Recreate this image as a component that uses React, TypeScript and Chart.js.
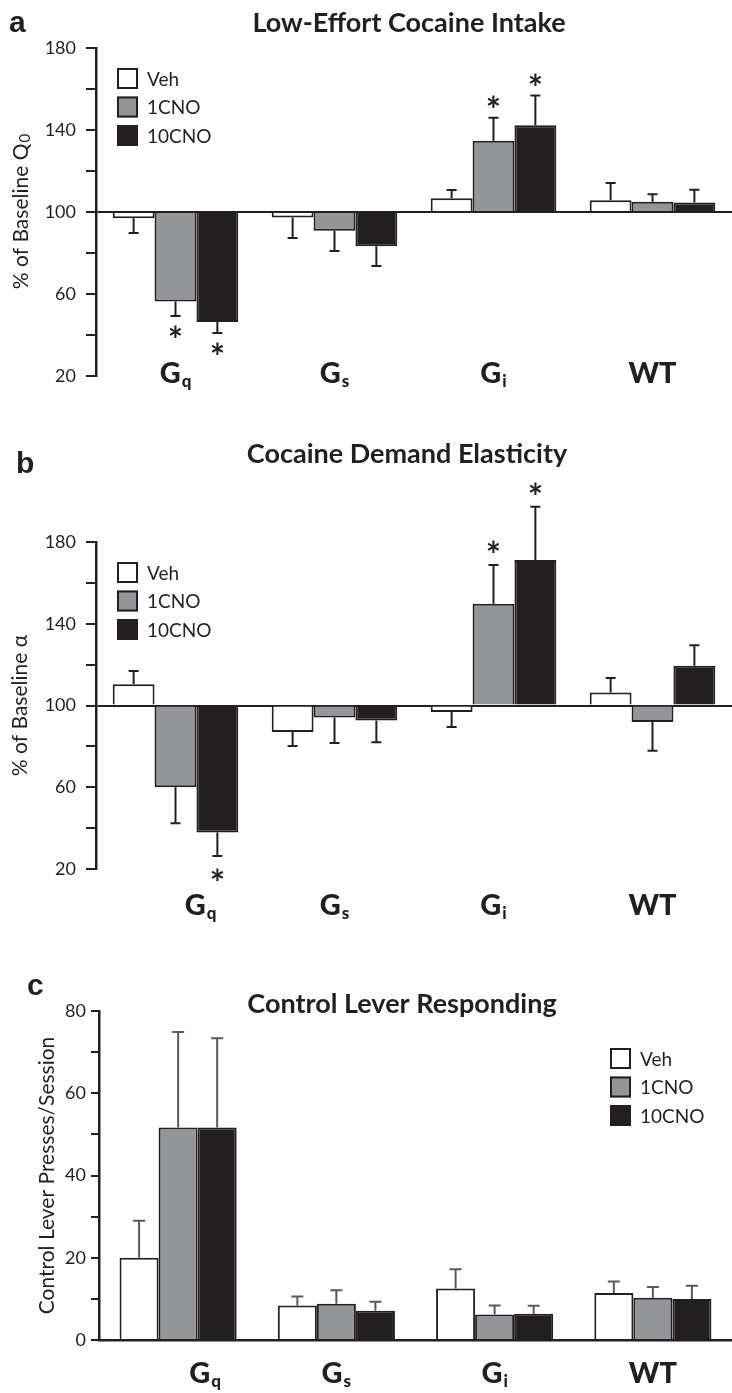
import React, { useEffect, useRef } from 'react';
import { Chart, registerables } from 'chart.js';

Chart.register(...registerables);

// ---------- shared data ----------
const seriesNames = ['Veh', '1CNO', '10CNO'];
const catMain = ['G', 'G', 'G', 'WT'];
const catSub = ['q', 's', 'i', ''];

// ---------- panel a: Low-Effort Cocaine Intake (% of baseline Q0) ----------
const aVeh = [97.0, 97.3, 106.7, 105.7];
const a1CNO = [56.4, 90.9, 134.8, 105.0];
const a10CNO = [46.3, 83.3, 142.3, 104.6];
const aVehErr = [7.2, 10.0, 4.0, 8.4];
const a1CNOErr = [7.1, 9.9, 11.2, 3.6];
const a10CNOErr = [5.3, 9.6, 14.5, 6.3];
const aSig1CNO = [1, 0, 1, 0];
const aSig10CNO = [1, 0, 1, 0];

// ---------- panel b: Cocaine Demand Elasticity (% of baseline alpha) ----------
const bVeh = [110.4, 87.0, 96.8, 106.3];
const b1CNO = [60.0, 94.1, 149.8, 91.9];
const b10CNO = [37.8, 92.7, 171.2, 119.5];
const bVehErr = [6.5, 6.8, 7.3, 7.1];
const b1CNOErr = [17.6, 12.4, 19.0, 14.1];
const b10CNOErr = [11.5, 10.7, 26.1, 10.0];
const bSig1CNO = [0, 0, 1, 0];
const bSig10CNO = [1, 0, 1, 0];

// ---------- panel c: Control Lever Responding ----------
const cVeh = [20.0, 8.4, 12.5, 11.4];
const c1CNO = [51.7, 8.8, 6.2, 10.3];
const c10CNO = [51.7, 7.1, 6.4, 10.0];
const cVehErr = [9.0, 2.2, 4.7, 2.8];
const c1CNOErr = [23.2, 3.3, 2.2, 2.6];
const c10CNOErr = [21.7, 2.2, 1.9, 3.2];
const cSig = [0, 0, 0, 0];

const DARK = '#231f20';
const GRAY = '#939598';
const WHITE = '#ffffff';
const fills = [WHITE, GRAY, DARK];
const FONT = 'Lato, "Open Sans", sans-serif';

type PanelCfg = {
  top: number; height: number;
  values: number[][]; errors: number[][]; sig: number[][];
  min: number; max: number; step: number; labelEvery: number; base: number;
  padTop: number; padBottom: number; yWidth: number; tickPad: number; tickLen: number;
  catPct: number; baseLine: boolean; xBorder: boolean;
  letter: string; letterX: number; letterY: number;
  title: string; titleX: number; titleY: number; titleMax: number;
  yTitle: string; yTitleSub: string; yTitleX: number; yTitleSize: number;
  legendX: number; legendY: number;
  labelDy: number; labelShift: number[];
  errColor: string; capHalf: number; starGap: number;
};

const panels: PanelCfg[] = [
  {
    top: 0, height: 420,
    values: [aVeh, a1CNO, a10CNO], errors: [aVehErr, a1CNOErr, a10CNOErr], sig: [[0, 0, 0, 0], aSig1CNO, aSig10CNO],
    min: 20, max: 180, step: 20, labelEvery: 40, base: 100,
    padTop: 48, padBottom: 44, yWidth: 96, tickPad: 10, tickLen: 10,
    catPct: 0.79, baseLine: true, xBorder: false,
    letter: 'a', letterX: 9, letterY: 32,
    title: 'Low-Effort Cocaine Intake', titleX: 409, titleY: 32, titleMax: 332,
    yTitle: '% of Baseline Q', yTitleSub: '0', yTitleX: 21, yTitleSize: 21,
    legendX: 117, legendY: 68,
    labelDy: 7, labelShift: [0, 0, 0, 0],
    errColor: DARK, capHalf: 5, starGap: 16,
  },
  {
    top: 420, height: 520,
    values: [bVeh, b1CNO, b10CNO], errors: [bVehErr, b1CNOErr, b10CNOErr], sig: [[0, 0, 0, 0], bSig1CNO, bSig10CNO],
    min: 20, max: 180, step: 20, labelEvery: 40, base: 100,
    padTop: 122, padBottom: 71, yWidth: 96, tickPad: 10, tickLen: 10,
    catPct: 0.79, baseLine: true, xBorder: false,
    letter: 'b', letterX: 16, letterY: 53,
    title: 'Cocaine Demand Elasticity', titleX: 407, titleY: 43, titleMax: 328,
    yTitle: '% of Baseline α', yTitleSub: '', yTitleX: 20, yTitleSize: 21,
    legendX: 117, legendY: 142,
    labelDy: 46, labelShift: [25, 0, 0, 0],
    errColor: DARK, capHalf: 5, starGap: 18,
  },
  {
    top: 920, height: 473,
    values: [cVeh, c1CNO, c10CNO], errors: [cVehErr, c1CNOErr, c10CNOErr], sig: [cSig, cSig, cSig],
    min: 0, max: 80, step: 10, labelEvery: 20, base: 0,
    padTop: 91, padBottom: 53, yWidth: 99, tickPad: 5, tickLen: 8,
    catPct: 0.74, baseLine: false, xBorder: true,
    letter: 'c', letterX: 27, letterY: 75,
    title: 'Control Lever Responding', titleX: 402, titleY: 93, titleMax: 331,
    yTitle: 'Control Lever Presses/Session', yTitleSub: '', yTitleX: 47, yTitleSize: 21,
    legendX: 610, legendY: 128,
    labelDy: 43, labelShift: [27, 0, 0, 0],
    errColor: '#58595b', capHalf: 6, starGap: 16,
  },
];

function makeDecor(cfg: PanelCfg) {
  return {
    id: 'panelDecor',
    afterDatasetsDraw(chart: any) {
      const ctx: CanvasRenderingContext2D = chart.ctx;
      const ys = chart.scales.y;
      const xs = chart.scales.x;
      const ca = chart.chartArea;
      ctx.save();

      // error bars + significance stars
      chart.data.datasets.forEach((_ds: any, i: number) => {
        const meta = chart.getDatasetMeta(i);
        meta.data.forEach((el: any, j: number) => {
          const v = cfg.values[i][j];
          const e = cfg.errors[i][j];
          const dir = v >= cfg.base ? 1 : -1;
          const yEnd = ys.getPixelForValue(v + dir * e);
          const x = el.x;
          ctx.strokeStyle = cfg.errColor;
          ctx.lineWidth = 2;
          ctx.beginPath();
          ctx.moveTo(x, el.y);
          ctx.lineTo(x, yEnd);
          ctx.moveTo(x - cfg.capHalf, yEnd);
          ctx.lineTo(x + cfg.capHalf, yEnd);
          ctx.stroke();
          if (cfg.sig[i][j]) {
            const cy = yEnd - dir * cfg.starGap;
            ctx.font = `bold 36px ${FONT}`;
            ctx.fillStyle = DARK;
            ctx.textAlign = 'center';
            ctx.textBaseline = 'alphabetic';
            const m = ctx.measureText('*');
            const asc = m.actualBoundingBoxAscent;
            const desc = m.actualBoundingBoxDescent;
            ctx.fillText('*', x, cy + (asc - desc) / 2);
          }
        });
      });

      // category labels with subscripts
      ctx.fillStyle = DARK;
      ctx.textBaseline = 'alphabetic';
      ctx.textAlign = 'left';
      const mainFont = `900 29px ${FONT}`;
      const subFont = `900 17px ${FONT}`;
      catMain.forEach((main, j) => {
        const cx = xs.getPixelForValue(j) + cfg.labelShift[j];
        const by = ca.bottom + cfg.labelDy;
        ctx.font = mainFont;
        const wm = ctx.measureText(main).width;
        ctx.font = subFont;
        const ws = catSub[j] ? ctx.measureText(catSub[j]).width + 1 : 0;
        const x0 = cx - (wm + ws) / 2;
        ctx.font = mainFont;
        ctx.fillText(main, x0, by);
        if (catSub[j]) {
          ctx.font = subFont;
          ctx.fillText(catSub[j], x0 + wm + 1, by + 4);
        }
      });

      // title
      ctx.font = `bold 27px ${FONT}`;
      ctx.textAlign = 'center';
      ctx.fillText(cfg.title, cfg.titleX, cfg.titleY, cfg.titleMax);

      // panel letter
      ctx.font = 'bold 30px "Liberation Sans", Arial, sans-serif';
      ctx.textAlign = 'left';
      ctx.fillText(cfg.letter, cfg.letterX, cfg.letterY);

      // y-axis title (rotated, optional subscript)
      ctx.save();
      const cyT = (ca.top + ca.bottom) / 2;
      ctx.translate(cfg.yTitleX, cyT);
      ctx.rotate(-Math.PI / 2);
      ctx.textBaseline = 'middle';
      ctx.textAlign = 'left';
      ctx.font = `${cfg.yTitleSize}px ${FONT}`;
      const wMain = ctx.measureText(cfg.yTitle).width;
      ctx.font = `${Math.round(cfg.yTitleSize * 0.7)}px ${FONT}`;
      const wSub = cfg.yTitleSub ? ctx.measureText(cfg.yTitleSub).width : 0;
      const sx = -(wMain + wSub) / 2;
      ctx.font = `${cfg.yTitleSize}px ${FONT}`;
      ctx.fillText(cfg.yTitle, sx, 0);
      if (cfg.yTitleSub) {
        ctx.font = `${Math.round(cfg.yTitleSize * 0.7)}px ${FONT}`;
        ctx.fillText(cfg.yTitleSub, sx + wMain + 1, 4);
      }
      ctx.restore();

      // legend
      const box = 21;
      const rowH = 28.5;
      chart.data.datasets.forEach((ds: any, i: number) => {
        const y = cfg.legendY + i * rowH;
        ctx.fillStyle = ds.backgroundColor;
        ctx.fillRect(cfg.legendX, y, box, box);
        ctx.strokeStyle = DARK;
        ctx.lineWidth = 2;
        ctx.strokeRect(cfg.legendX + 1, y + 1, box - 2, box - 2);
        ctx.fillStyle = DARK;
        ctx.font = `19px ${FONT}`;
        ctx.textAlign = 'left';
        ctx.textBaseline = 'middle';
        ctx.fillText(ds.label, cfg.legendX + 30, y + box / 2 + 1);
      });

      ctx.restore();
    },
  };
}

function Panel({ cfg }: { cfg: PanelCfg }) {
  const ref = useRef<HTMLCanvasElement | null>(null);
  useEffect(() => {
    if (!ref.current) return;
    const chart = new Chart(ref.current, {
      type: 'bar',
      data: {
        labels: catMain.map((m, j) => m + catSub[j]),
        datasets: seriesNames.map((name, i) => ({
          label: name,
          data: cfg.values[i],
          backgroundColor: fills[i],
          borderColor: DARK,
          borderWidth: 2,
          borderSkipped: 'start',
          base: cfg.base,
          categoryPercentage: cfg.catPct,
          barPercentage: 1,
          inflateAmount: 0,
        })),
      },
      options: {
        responsive: false,
        animation: false,
        devicePixelRatio: 1,
        layout: { padding: { top: cfg.padTop, bottom: cfg.padBottom, left: 0, right: 0 } },
        plugins: {
          legend: { display: false },
          title: { display: false },
          tooltip: { enabled: false },
        },
        scales: {
          x: {
            type: 'category',
            z: 1,
            ticks: { display: false },
            grid: { display: false, drawTicks: false },
            border: { display: cfg.xBorder, color: DARK, width: 2.5 },
            afterFit: (s: any) => { s.height = 0; },
          },
          y: {
            min: cfg.min,
            max: cfg.max,
            z: 1,
            ticks: {
              stepSize: cfg.step,
              padding: cfg.tickPad,
              color: DARK,
              font: { family: FONT, size: 18 },
              callback: (v: any) => ((Number(v) - cfg.min) % cfg.labelEvery === 0 ? String(v) : ''),
            },
            grid: {
              drawOnChartArea: cfg.baseLine,
              color: (c: any) => (cfg.baseLine && c.tick && c.tick.value === cfg.base ? DARK : 'rgba(0,0,0,0)'),
              lineWidth: 2,
              tickColor: DARK,
              tickLength: cfg.tickLen,
              tickWidth: 2,
            },
            border: { display: true, color: DARK, width: 2.5 },
            afterFit: (s: any) => { s.width = cfg.yWidth; },
          },
        },
      },
      plugins: [makeDecor(cfg)],
    } as any);
    return () => chart.destroy();
  }, [cfg]);
  return (
    <canvas
      ref={ref}
      width={732}
      height={cfg.height}
      style={{ position: 'absolute', left: 0, top: cfg.top, width: 732, height: cfg.height, display: 'block' }}
    />
  );
}

export default function App() {
  return (
    <div style={{ position: 'absolute', left: 0, top: 0, width: 732, height: 1393, background: '#ffffff' }}>
      {panels.map((p, i) => (
        <Panel key={i} cfg={p} />
      ))}
    </div>
  );
}
